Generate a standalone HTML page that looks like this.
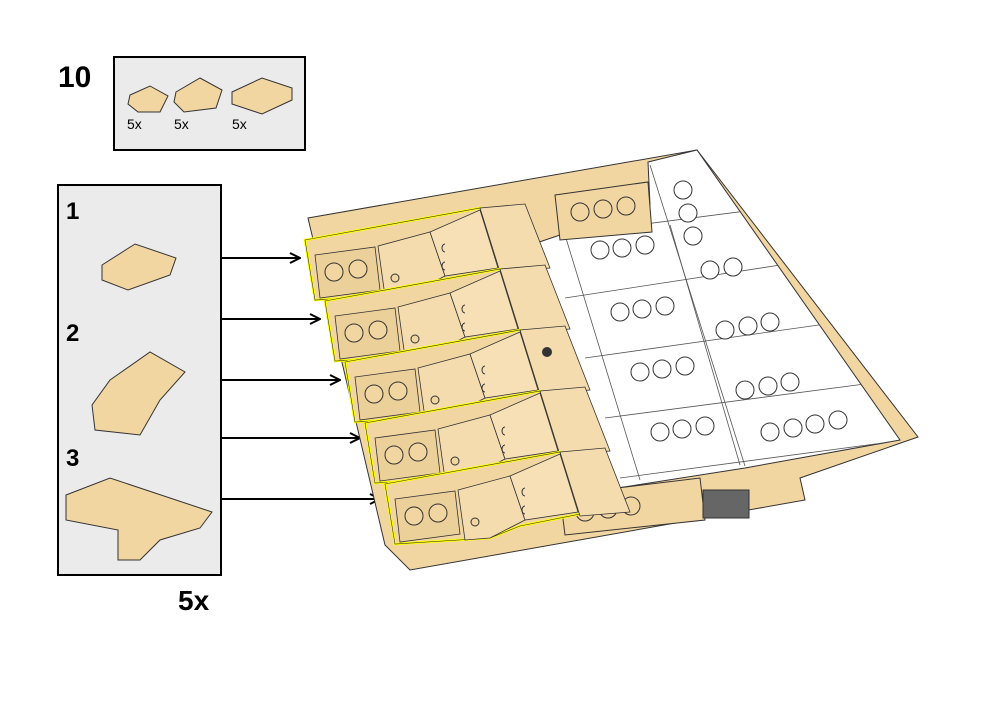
<!DOCTYPE html>
<html><head><style>
body{margin:0;background:#fff;width:1005px;height:710px;overflow:hidden;font-family:"Liberation Sans",sans-serif}
</style></head><body>
<svg width="1005" height="710" viewBox="0 0 1005 710" xmlns="http://www.w3.org/2000/svg">
<defs>
<marker id="ar" markerWidth="12" markerHeight="12" refX="11" refY="6" orient="auto" markerUnits="userSpaceOnUse">
<path d="M1,1 L11,6 L1,11" fill="none" stroke="#000" stroke-width="2"/></marker>
<clipPath id="wc"><polygon points="648,162 697,150 900,440 745,468 605,490 480,262 560,235 650,205"/></clipPath>
<g id="grp">
  <polygon points="305,240 480,208 500,270 440,282 410,294 315,300" fill="#f2d6a2" stroke="#ff0" stroke-width="2.5"/>
  <polygon points="305,240 480,208 500,270 440,282 410,294 315,300" fill="none" stroke="#333" stroke-width="0.6"/>
  <polygon points="480,208 525,204 550,268 500,272" fill="#f5dcae" stroke="#333" stroke-width="0.8"/>
  <polygon points="315,255 375,247 380,290 320,298" fill="#ecd09a" stroke="#333" stroke-width="0.8"/>
  <circle cx="334" cy="272" r="9" fill="#f2d6a2" stroke="#333"/><circle cx="358" cy="269" r="9" fill="#f2d6a2" stroke="#333"/>
  <polygon points="378,246 430,232 445,276 410,294 385,296" fill="#f5dcae" stroke="#333" stroke-width="0.8"/>
  <polygon points="430,232 480,210 498,268 445,276" fill="#f7e0b6" stroke="#333" stroke-width="0.8"/>
  <circle cx="395" cy="278" r="4" fill="#f2d6a2" stroke="#333"/>
  <path d="M445,244 a3,4 0 0 0 0,8 M445,262 a3,4 0 0 0 0,8" fill="none" stroke="#333"/>
</g>
</defs>
<text x="58" y="87" font-size="30" font-weight="bold">10</text>
<rect x="114" y="57" width="191" height="93" fill="#ebebeb" stroke="#000" stroke-width="2"/>
<polygon points="130,95 150,86 168,96 160,112 138,112 128,104" fill="#f2d6a2" stroke="#333"/>
<polygon points="176,92 200,78 222,90 216,108 184,112 174,102" fill="#f2d6a2" stroke="#333"/>
<polygon points="232,92 262,78 292,88 292,100 262,114 232,104" fill="#f2d6a2" stroke="#333"/>
<text x="127" y="129" font-size="14">5x</text><text x="174" y="129" font-size="14">5x</text><text x="232" y="129" font-size="14">5x</text>
<rect x="58" y="185" width="163" height="390" fill="#ebebeb" stroke="#000" stroke-width="2"/>
<text x="66" y="219" font-size="24" font-weight="bold">1</text>
<text x="66" y="341" font-size="24" font-weight="bold">2</text>
<text x="66" y="466" font-size="24" font-weight="bold">3</text>
<polygon points="102,265 135,244 176,258 170,275 128,290 102,280" fill="#f2d6a2" stroke="#333"/>
<polygon points="110,380 150,352 185,372 160,400 140,435 95,430 92,405" fill="#f2d6a2" stroke="#333"/>
<polygon points="66,495 110,478 212,512 200,528 160,540 140,560 118,560 118,530 66,520" fill="#f2d6a2" stroke="#333"/>
<text x="178" y="610" font-size="28" font-weight="bold">5x</text>
<g stroke="#000" stroke-width="2" marker-end="url(#ar)">
<line x1="222" y1="258" x2="300" y2="258"/><line x1="222" y1="319" x2="320" y2="319"/>
<line x1="222" y1="380" x2="340" y2="380"/><line x1="222" y1="438" x2="360" y2="438"/>
<line x1="222" y1="499" x2="380" y2="499"/></g>
<polygon points="308,218 697,150 918,437 800,478 805,500 410,570 385,545" fill="#f2d6a2" stroke="#333"/>
<polygon points="648,162 697,150 900,440 745,468 605,490 480,262 560,235 650,205" fill="#fff" stroke="#333"/>
<g stroke="#555" stroke-width="0.8" fill="none" clip-path="url(#wc)">
<line x1="560" y1="235" x2="870" y2="195"/><line x1="565" y1="298" x2="800" y2="262"/>
<line x1="585" y1="358" x2="840" y2="322"/><line x1="605" y1="418" x2="880" y2="382"/>
<line x1="620" y1="478" x2="905" y2="440"/>
<line x1="565" y1="235" x2="640" y2="480"/><line x1="670" y1="225" x2="740" y2="465"/>
<line x1="650" y1="165" x2="745" y2="466"/>
</g>
<polygon points="555,195 648,182 652,232 560,240" fill="#f2d6a2" stroke="#333"/>
<circle cx="580" cy="212" r="9" fill="#f2d6a2" stroke="#333"/><circle cx="603" cy="209" r="9" fill="#f2d6a2" stroke="#333"/><circle cx="626" cy="206" r="9" fill="#f2d6a2" stroke="#333"/>
<g fill="#fff" stroke="#333">
<circle cx="600" cy="250" r="9"/><circle cx="622" cy="248" r="9"/><circle cx="645" cy="245" r="9"/>
<circle cx="620" cy="312" r="9"/><circle cx="642" cy="309" r="9"/><circle cx="665" cy="306" r="9"/>
<circle cx="640" cy="372" r="9"/><circle cx="662" cy="369" r="9"/><circle cx="685" cy="366" r="9"/>
<circle cx="660" cy="432" r="9"/><circle cx="682" cy="429" r="9"/><circle cx="705" cy="426" r="9"/>
<circle cx="710" cy="270" r="9"/><circle cx="733" cy="267" r="9"/>
<circle cx="725" cy="330" r="9"/><circle cx="748" cy="326" r="9"/><circle cx="770" cy="322" r="9"/>
<circle cx="745" cy="390" r="9"/><circle cx="768" cy="386" r="9"/><circle cx="790" cy="382" r="9"/>
<circle cx="770" cy="432" r="9"/><circle cx="793" cy="428" r="9"/><circle cx="815" cy="424" r="9"/><circle cx="838" cy="420" r="9"/>
<circle cx="683" cy="190" r="9"/><circle cx="688" cy="213" r="9"/><circle cx="693" cy="236" r="9"/>
</g>
<polygon points="560,495 700,478 705,520 565,535" fill="#f2d6a2" stroke="#333"/>
<circle cx="585" cy="512" r="9" fill="#f2d6a2" stroke="#333"/><circle cx="608" cy="509" r="9" fill="#f2d6a2" stroke="#333"/><circle cx="631" cy="506" r="9" fill="#f2d6a2" stroke="#333"/>
<rect x="703" y="490" width="46" height="28" fill="#666" stroke="#333"/>
<use href="#grp"/>
<use href="#grp" transform="translate(20,61)"/>
<use href="#grp" transform="translate(40,122)"/>
<use href="#grp" transform="translate(60,183)"/>
<use href="#grp" transform="translate(80,244)"/>
<circle cx="547" cy="352" r="5" fill="#333"/>
</svg>
</body></html>
